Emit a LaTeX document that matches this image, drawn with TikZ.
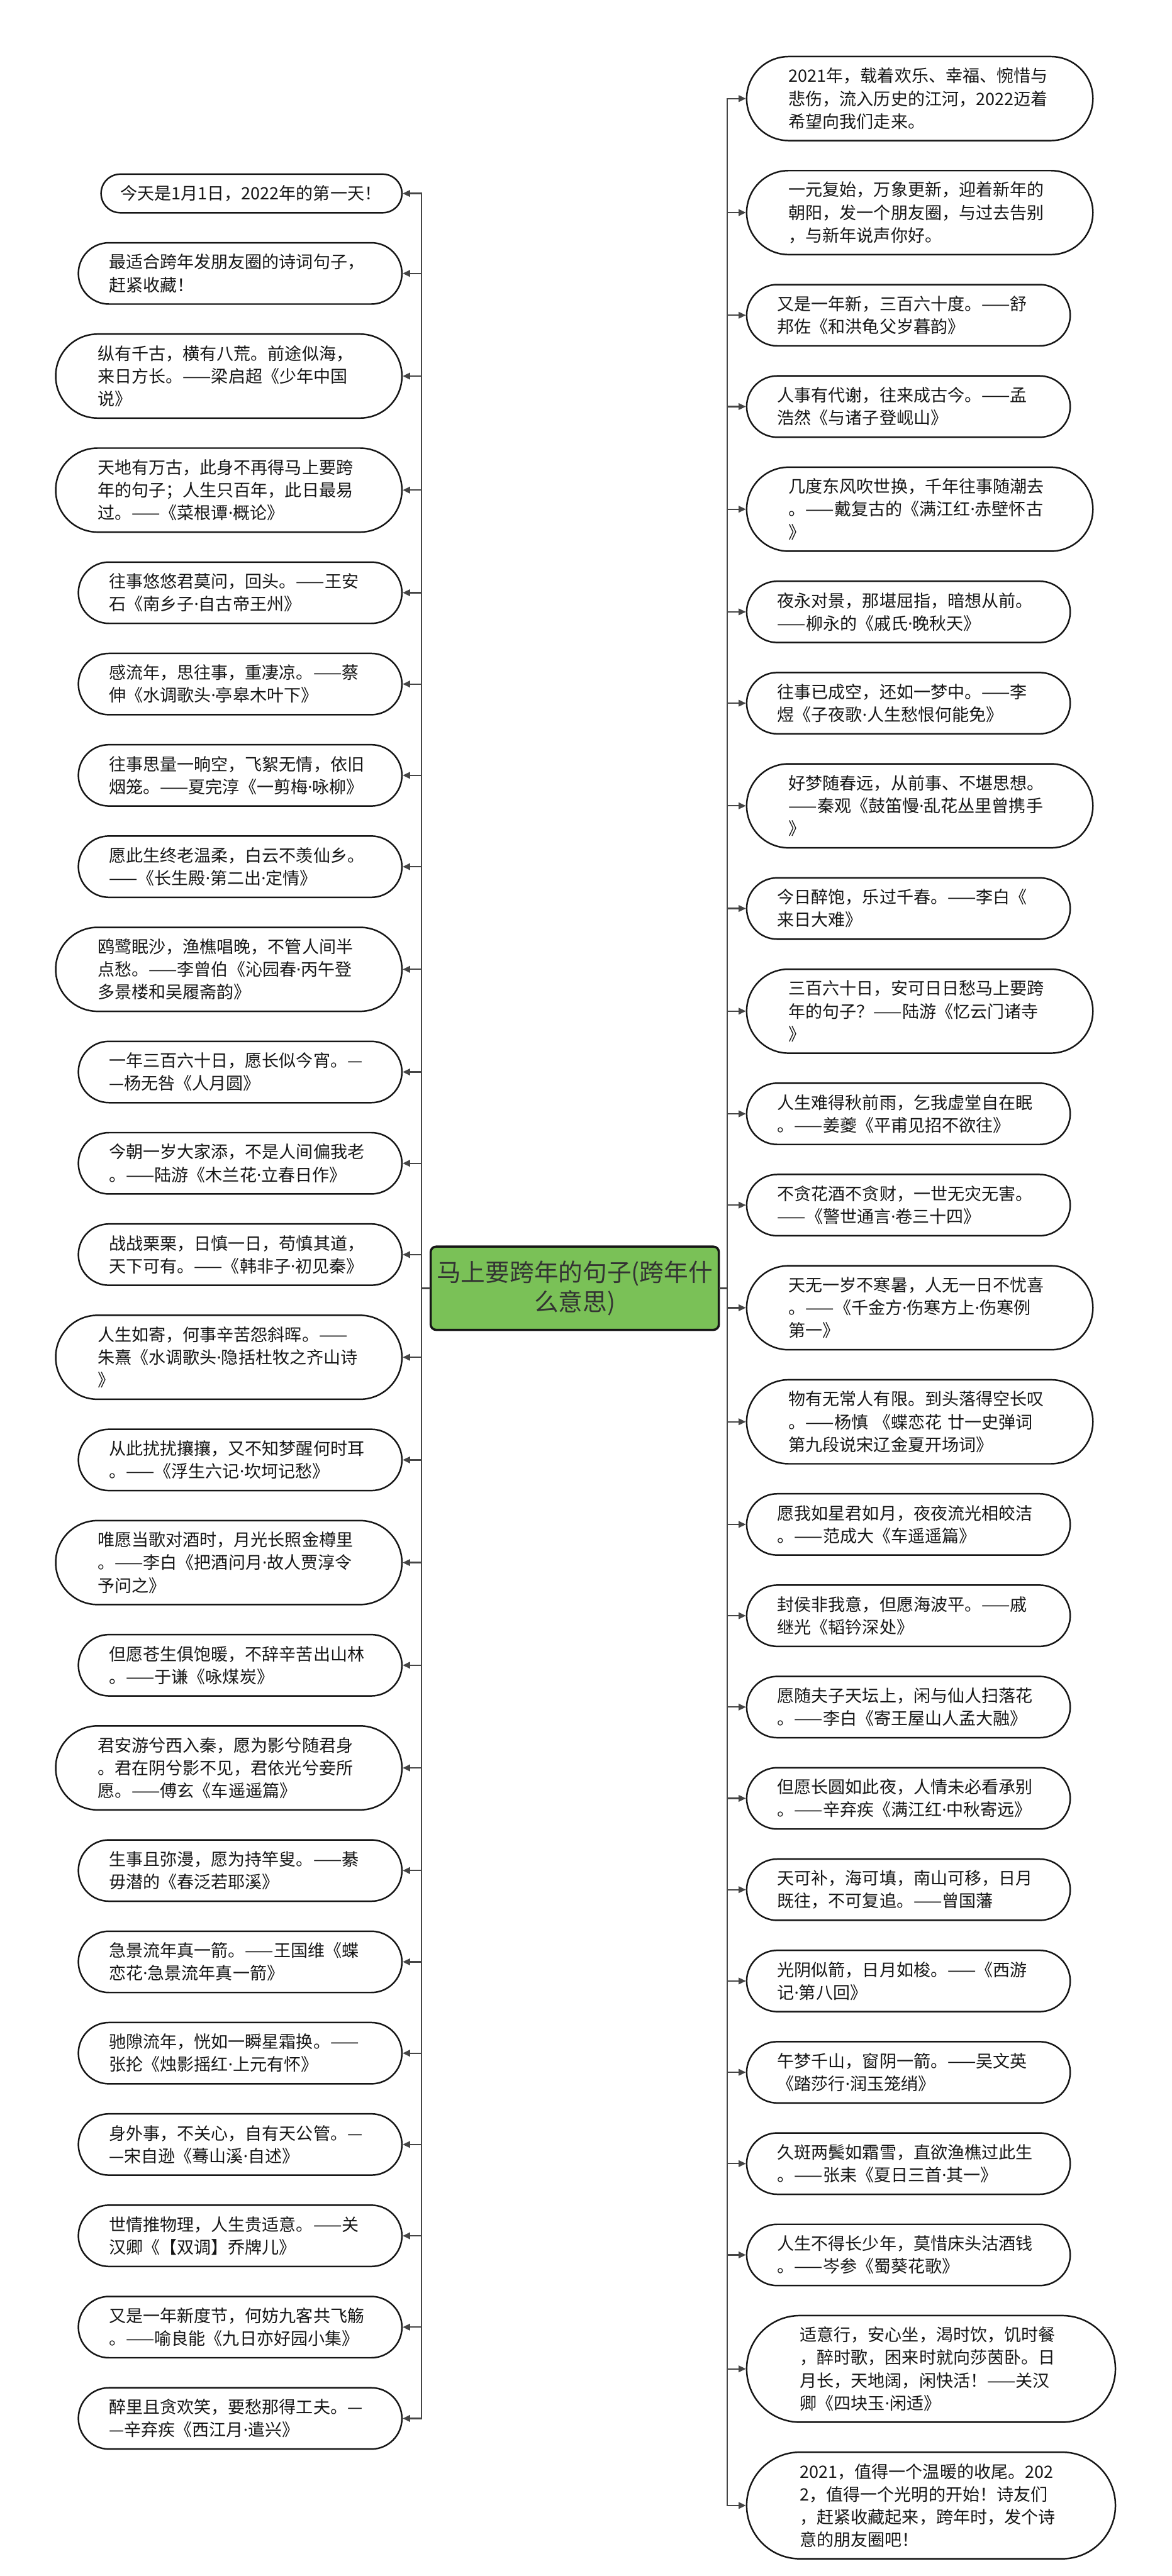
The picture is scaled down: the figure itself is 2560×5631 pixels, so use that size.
\documentclass[tikz,border=0pt]{standalone}
\usepackage{fontspec}
\setmainfont{Noto Sans CJK SC}
\newfontfamily\westfont{Noto Sans}
\usepackage{xcolor}
\usepackage{tikz}
\usetikzlibrary{arrows.meta,positioning}
\definecolor{Ink}{HTML}{161616}
\definecolor{Wire}{HTML}{454545}
\definecolor{Leaf}{HTML}{7AC157}
\definecolor{HubText}{HTML}{333333}
\newcommand{\quotefont}{\fontsize{9.3pt}{12.4pt}\selectfont\hyphenpenalty=10000\exhyphenpenalty=10000}
\newcommand{\hubfont}{\fontsize{13.3pt}{16.3pt}\selectfont}
\newcommand{\midot}{{\westfont ·}}
\tikzset{
  quote/.style={draw=Ink,line width=0.85pt,fill=white,text=Ink,text width=143.25pt,align=left,font=\quotefont,inner ysep=0pt},
  oneline/.style={quote,minimum height=21.1pt,inner xsep=10.55pt,rounded corners=10.5pt},
  twoline/.style={quote,minimum height=33.5pt,inner xsep=16.75pt,rounded corners=16.7pt},
  threeline/.style={quote,minimum height=45.9pt,inner xsep=22.95pt,rounded corners=22.9pt},
  fourline/.style={quote,minimum height=58.25pt,inner xsep=29.1pt,rounded corners=29.05pt},
  hub/.style={draw=Ink,line width=1.2pt,fill=Leaf,text=HubText,rounded corners=3pt,minimum width=155.5pt,minimum height=45.5pt,align=center,font=\hubfont},
  wire/.style={draw=Wire,line width=0.8pt,line cap=rect},
  arrow/.style={draw=Wire,line width=0.8pt,-{Triangle[length=4pt,width=3.6pt]}}
}
\begin{document}
\begin{tikzpicture}[x=0.25pt,y=-0.25pt,node distance=15.55pt and 0pt]
  \useasboundingbox (0,0) rectangle (2560,5631);
  \coordinate (trunkL) at (921,0);
  \coordinate (trunkR) at (1589,0);
  \node[hub] (hub) at (1256,2816) {马上要跨年的句子(跨年什\\么意思)};
  % left column
  \node[oneline,anchor=north east] (l1) at (880,379) {今天是1月1日，2022年的第一天！};
  \node[twoline,below left=of l1.south east] (l2) {最适合跨年发朋友圈的诗词句子，\\赶紧收藏！};
  \node[threeline,below left=of l2.south east] (l3) {纵有千古，横有八荒。前途似海，\\来日方长。——梁启超《少年中国\\说》};
  \node[threeline,below left=of l3.south east] (l4) {天地有万古，此身不再得马上要跨\\年的句子；人生只百年，此日最易\\过。——《菜根谭\midot 概论》};
  \node[twoline,below left=of l4.south east] (l5) {往事悠悠君莫问，回头。——王安\\石《南乡子\midot 自古帝王州》};
  \node[twoline,below left=of l5.south east] (l6) {感流年，思往事，重凄凉。——蔡\\伸《水调歌头\midot 亭皋木叶下》};
  \node[twoline,below left=of l6.south east] (l7) {往事思量一晌空，飞絮无情，依旧\\烟笼。——夏完淳《一剪梅\midot 咏柳》};
  \node[twoline,below left=of l7.south east] (l8) {愿此生终老温柔，白云不羡仙乡。\\——《长生殿\midot 第二出\midot 定情》};
  \node[threeline,below left=of l8.south east] (l9) {鸥鹭眠沙，渔樵唱晚，不管人间半\\点愁。——李曾伯《沁园春\midot 丙午登\\多景楼和吴履斋韵》};
  \node[twoline,below left=of l9.south east] (l10) {一年三百六十日，愿长似今宵。—\\—杨无咎《人月圆》};
  \node[twoline,below left=of l10.south east] (l11) {今朝一岁大家添，不是人间偏我老\\。——陆游《木兰花\midot 立春日作》};
  \node[twoline,below left=of l11.south east] (l12) {战战栗栗，日慎一日，苟慎其道，\\天下可有。——《韩非子\midot 初见秦》};
  \node[threeline,below left=of l12.south east] (l13) {人生如寄，何事辛苦怨斜晖。——\\朱熹《水调歌头\midot 隐括杜牧之齐山诗\\》};
  \node[twoline,below left=of l13.south east] (l14) {从此扰扰攘攘，又不知梦醒何时耳\\。——《浮生六记\midot 坎坷记愁》};
  \node[threeline,below left=of l14.south east] (l15) {唯愿当歌对酒时，月光长照金樽里\\。——李白《把酒问月\midot 故人贾淳令\\予问之》};
  \node[twoline,below left=of l15.south east] (l16) {但愿苍生俱饱暖，不辞辛苦出山林\\。——于谦《咏煤炭》};
  \node[threeline,below left=of l16.south east] (l17) {君安游兮西入秦，愿为影兮随君身\\。君在阴兮影不见，君依光兮妾所\\愿。——傅玄《车遥遥篇》};
  \node[twoline,below left=of l17.south east] (l18) {生事且弥漫，愿为持竿叟。——綦\\毋潜的《春泛若耶溪》};
  \node[twoline,below left=of l18.south east] (l19) {急景流年真一箭。——王国维《蝶\\恋花\midot 急景流年真一箭》};
  \node[twoline,below left=of l19.south east] (l20) {驰隙流年，恍如一瞬星霜换。——\\张抡《烛影摇红\midot 上元有怀》};
  \node[twoline,below left=of l20.south east] (l21) {身外事，不关心，自有天公管。—\\—宋自逊《蓦山溪\midot 自述》};
  \node[twoline,below left=of l21.south east] (l22) {世情推物理，人生贵适意。——关\\汉卿《【双调】乔牌儿》};
  \node[twoline,below left=of l22.south east] (l23) {又是一年新度节，何妨九客共飞觞\\。——喻良能《九日亦好园小集》};
  \node[twoline,below left=of l23.south east] (l24) {醉里且贪欢笑，要愁那得工夫。—\\—辛弃疾《西江月\midot 遣兴》};
  % right column
  \node[threeline,anchor=north west] (r1) at (1630,122) {2021年，载着欢乐、幸福、惋惜与\\悲伤，流入历史的江河，2022迈着\\希望向我们走来。};
  \node[threeline,below right=of r1.south west] (r2) {一元复始，万象更新，迎着新年的\\朝阳，发一个朋友圈，与过去告别\\，与新年说声你好。};
  \node[twoline,below right=of r2.south west] (r3) {又是一年新，三百六十度。——舒\\邦佐《和洪龟父岁暮韵》};
  \node[twoline,below right=of r3.south west] (r4) {人事有代谢，往来成古今。——孟\\浩然《与诸子登岘山》};
  \node[threeline,below right=of r4.south west] (r5) {几度东风吹世换，千年往事随潮去\\。——戴复古的《满江红\midot 赤壁怀古\\》};
  \node[twoline,below right=of r5.south west] (r6) {夜永对景，那堪屈指，暗想从前。\\——柳永的《戚氏\midot 晚秋天》};
  \node[twoline,below right=of r6.south west] (r7) {往事已成空，还如一梦中。——李\\煜《子夜歌\midot 人生愁恨何能免》};
  \node[threeline,below right=of r7.south west] (r8) {好梦随春远，从前事、不堪思想。\\——秦观《鼓笛慢\midot 乱花丛里曾携手\\》};
  \node[twoline,below right=of r8.south west] (r9) {今日醉饱，乐过千春。——李白《\\来日大难》};
  \node[threeline,below right=of r9.south west] (r10) {三百六十日，安可日日愁马上要跨\\年的句子？——陆游《忆云门诸寺\\》};
  \node[twoline,below right=of r10.south west] (r11) {人生难得秋前雨，乞我虚堂自在眠\\。——姜夔《平甫见招不欲往》};
  \node[twoline,below right=of r11.south west] (r12) {不贪花酒不贪财，一世无灾无害。\\——《警世通言\midot 卷三十四》};
  \node[threeline,below right=of r12.south west] (r13) {天无一岁不寒暑，人无一日不忧喜\\。——《千金方\midot 伤寒方上\midot 伤寒例\\第一》};
  \node[threeline,below right=of r13.south west] (r14) {物有无常人有限。到头落得空长叹\\。——杨慎 《蝶恋花 廿一史弹词\\第九段说宋辽金夏开场词》};
  \node[twoline,below right=of r14.south west] (r15) {愿我如星君如月，夜夜流光相皎洁\\。——范成大《车遥遥篇》};
  \node[twoline,below right=of r15.south west] (r16) {封侯非我意，但愿海波平。——戚\\继光《韬钤深处》};
  \node[twoline,below right=of r16.south west] (r17) {愿随夫子天坛上，闲与仙人扫落花\\。——李白《寄王屋山人孟大融》};
  \node[twoline,below right=of r17.south west] (r18) {但愿长圆如此夜，人情未必看承别\\。——辛弃疾《满江红\midot 中秋寄远》};
  \node[twoline,below right=of r18.south west] (r19) {天可补，海可填，南山可移，日月\\既往，不可复追。——曾国藩};
  \node[twoline,below right=of r19.south west] (r20) {光阴似箭，日月如梭。——《西游\\记\midot 第八回》};
  \node[twoline,below right=of r20.south west] (r21) {午梦千山，窗阴一箭。——吴文英\\《踏莎行\midot 润玉笼绡》};
  \node[twoline,below right=of r21.south west] (r22) {久斑两鬓如霜雪，直欲渔樵过此生\\。——张耒《夏日三首\midot 其一》};
  \node[twoline,below right=of r22.south west] (r23) {人生不得长少年，莫惜床头沽酒钱\\。——岑参《蜀葵花歌》};
  \node[fourline,below right=of r23.south west] (r24) {适意行，安心坐，渴时饮，饥时餐\\，醉时歌，困来时就向莎茵卧。日\\月长，天地阔，闲快活！——关汉\\卿《四块玉\midot 闲适》};
  \node[fourline,below right=of r24.south west] (r25) {2021，值得一个温暖的收尾。202\\2，值得一个光明的开始！诗友们\\，赶紧收藏起来，跨年时，发个诗\\意的朋友圈吧！};
  % trunks
  \draw[wire] (l1.east -| trunkL) -- (l24.east -| trunkL);
  \draw[wire] (hub.west) -- (hub.west -| trunkL);
  \draw[wire] (r1.west -| trunkR) -- (r25.west -| trunkR);
  \draw[wire] (hub.east) -- (hub.east -| trunkR);
  % branches
  \foreach \i in {1,...,24} \draw[arrow] (l\i.east -| trunkL) -- (l\i.east);
  \foreach \i in {1,...,25} \draw[arrow] (r\i.west -| trunkR) -- (r\i.west);
\end{tikzpicture}
\end{document}
